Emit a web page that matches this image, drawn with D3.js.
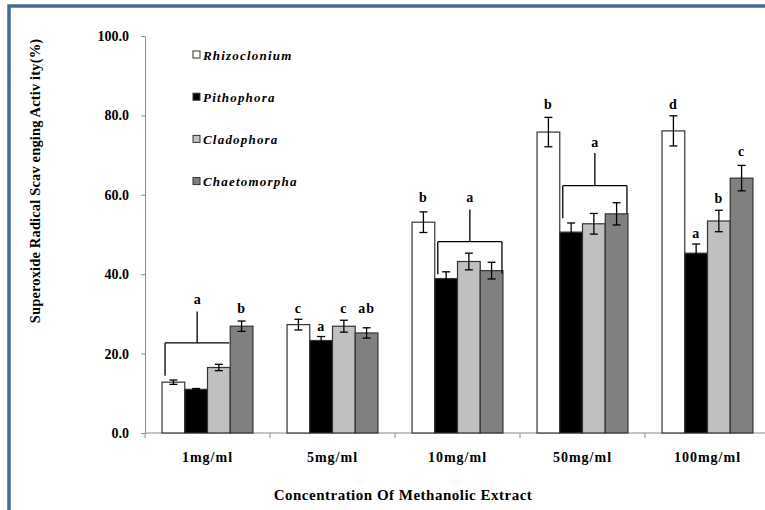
<!DOCTYPE html>
<html>
<head>
<meta charset="utf-8">
<script src="https://cdn.jsdelivr.net/npm/d3@7/dist/d3.min.js"></script>
<style>
  html, body { margin: 0; padding: 0; background: #ffffff; }
  svg { display: block; }
  text { font-family: "Liberation Serif", "Times New Roman", serif; font-weight: bold; fill: #000; }
</style>
</head>
<body>
<svg id="chart" width="765" height="510"></svg>
<script>
// ---------------- data ----------------
const categories = ["1mg/ml", "5mg/ml", "10mg/ml", "50mg/ml", "100mg/ml"];
const seriesNames = ["Rhizoclonium", "Pithophora", "Cladophora", "Chaetomorpha"];
const rhizoclonium = [12.8, 27.3, 53.1, 75.8, 76.1];
const rhizoclonium_err = [0.55, 1.35, 2.6, 3.7, 3.8];
const pithophora = [11.0, 23.3, 38.9, 50.6, 45.3];
const pithophora_err = [0.2, 1.0, 1.7, 2.3, 2.3];
const cladophora = [16.5, 26.9, 43.2, 52.7, 53.4];
const cladophora_err = [0.8, 1.5, 2.1, 2.6, 2.7];
const chaetomorpha = [26.9, 25.2, 40.9, 55.2, 64.2];
const chaetomorpha_err = [1.3, 1.3, 2.1, 2.8, 3.2];
const yTicks = [0, 20, 40, 60, 80, 100];
const yTitle = "Superoxide Radical Scav enging Activ ity(%)";
const xTitle = "Concentration Of Methanolic Extract";
// significance letters over single bars: category index, series index, letter, baseline (data units)
const barLetters = [
  [0, 3, "b", 30.3],
  [1, 0, "c", 30.3], [1, 1, "a", 25.7], [1, 2, "c", 30.3], [1, 3, "ab", 30.3],
  [2, 0, "b", 58.2],
  [3, 0, "b", 81.5],
  [4, 0, "d", 81.5], [4, 1, "a", 49.0], [4, 2, "b", 57.9], [4, 3, "c", 69.8]
];
// brackets: category, first series, last series, letter, letter baseline, stem top, bar level, left drop, right drop
const brackets = [
  [0, 0, 2, "a", 32.5, 30.6, 22.7, 14.4, null],
  [2, 1, 3, "a", 58.3, 56.3, 48.2, 40.0, 40.2],
  [3, 1, 3, "a", 72.1, 70.5, 62.3, 54.1, 55.2]
];

const values = [rhizoclonium, pithophora, cladophora, chaetomorpha];
const errors = [rhizoclonium_err, pithophora_err, cladophora_err, chaetomorpha_err];
const colors = ["#ffffff", "#000000", "#c0c0c0", "#808080"];

const table = [];
categories.forEach((c, ci) => {
  seriesNames.forEach((s, si) => {
    table.push({ cat: c, ci, series: s, si, value: values[si][ci], err: errors[si][ci] });
  });
});

// ---------------- layout ----------------
const svg = d3.select("#chart");
const plotLeft = 145, plotRight = 770, plotTop = 36, plotBottom = 433;

const x = d3.scaleBand().domain(categories).range([plotLeft, plotRight]).paddingInner(0).paddingOuter(0);
const xs = d3.scaleBand().domain(seriesNames).range([0, x.bandwidth()]).paddingInner(0).paddingOuter(0.75);
const y = d3.scaleLinear().domain([0, 100]).range([plotBottom, plotTop]);

// frame
svg.append("rect")
  .attr("x", 9).attr("y", 6).attr("width", 800).attr("height", 600)
  .attr("fill", "none").attr("stroke", "#46699c").attr("stroke-width", 3.5);

// y axis
const yAxis = svg.append("g").attr("transform", `translate(${plotLeft},0)`)
  .call(d3.axisLeft(y).tickValues(yTicks).tickSize(4).tickSizeOuter(0).tickPadding(12).tickFormat(d3.format(".1f")));
yAxis.select(".domain").attr("stroke", "#8c8c8c");
yAxis.selectAll(".tick line").attr("stroke", "#8c8c8c");
yAxis.selectAll(".tick text").style("font-size", "14px").style("font-family", "'Liberation Serif', serif").style("font-weight", "bold");

// x axis (line, boundary ticks, labels)
const xAxisG = svg.append("g");
xAxisG.append("line").attr("x1", plotLeft).attr("x2", plotRight).attr("y1", plotBottom).attr("y2", plotBottom)
  .attr("stroke", "#8c8c8c");
const boundaries = categories.map(c => x(c)).concat([x(categories[categories.length - 1]) + x.bandwidth()]);
xAxisG.selectAll("line.bt").data(boundaries).enter().append("line")
  .attr("class", "bt")
  .attr("x1", d => d).attr("x2", d => d).attr("y1", plotBottom).attr("y2", plotBottom + 5)
  .attr("stroke", "#8c8c8c");
xAxisG.selectAll("text.xl").data(categories).enter().append("text")
  .attr("class", "xl")
  .attr("x", d => x(d) + x.bandwidth() / 2)
  .attr("y", plotBottom + 29)
  .attr("text-anchor", "middle")
  .style("font-size", "14px")
  .style("letter-spacing", "1px")
  .text(d => d);

// bars
svg.append("g").selectAll("rect").data(table).enter().append("rect")
  .attr("x", d => x(d.cat) + xs(d.series))
  .attr("y", d => y(d.value))
  .attr("width", xs.bandwidth())
  .attr("height", d => y(0) - y(d.value))
  .attr("fill", d => colors[d.si])
  .attr("stroke", "#333333")
  .attr("stroke-width", 1.2);

// error bars
const eg = svg.append("g").attr("stroke", "#000").attr("stroke-width", 1.3);
table.forEach(d => {
  const cx = x(d.cat) + xs(d.series) + xs.bandwidth() / 2;
  const y1 = y(d.value + d.err), y2 = y(d.value - d.err);
  eg.append("line").attr("x1", cx).attr("x2", cx).attr("y1", y1).attr("y2", y2);
  eg.append("line").attr("x1", cx - 4).attr("x2", cx + 4).attr("y1", y1).attr("y2", y1);
  eg.append("line").attr("x1", cx - 4).attr("x2", cx + 4).attr("y1", y2).attr("y2", y2);
});

// letters on single bars
svg.append("g").selectAll("text").data(barLetters).enter().append("text")
  .attr("x", d => x(categories[d[0]]) + xs(seriesNames[d[1]]) + xs.bandwidth() / 2)
  .attr("y", d => y(d[3]))
  .attr("text-anchor", "middle")
  .style("font-size", "14px")
  .style("letter-spacing", "1px")
  .text(d => d[2]);

// brackets
const bg = svg.append("g").attr("stroke", "#000").attr("stroke-width", 1.3).attr("fill", "none");
brackets.forEach(b => {
  const cat = categories[b[0]];
  const x0 = x(cat) + xs(seriesNames[b[1]]) + 3;
  const x1 = x(cat) + xs(seriesNames[b[2]]) + xs.bandwidth() - 1;
  const xm = (x0 + x1) / 2;
  bg.append("line").attr("x1", x0).attr("x2", x1).attr("y1", y(b[6])).attr("y2", y(b[6]));
  bg.append("line").attr("x1", xm).attr("x2", xm).attr("y1", y(b[5])).attr("y2", y(b[6]));
  bg.append("line").attr("x1", x0).attr("x2", x0).attr("y1", y(b[6])).attr("y2", y(b[7]));
  if (b[8] !== null) bg.append("line").attr("x1", x1).attr("x2", x1).attr("y1", y(b[6])).attr("y2", y(b[8]));
  svg.append("text").attr("x", xm).attr("y", y(b[4])).attr("text-anchor", "middle")
    .style("font-size", "14px").text(b[3]);
});

// legend
const lg = svg.append("g");
seriesNames.forEach((s, i) => {
  const cy = 55 + i * 42.2;
  lg.append("rect").attr("x", 193).attr("y", cy - 4).attr("width", 7).attr("height", 7)
    .attr("fill", colors[i]).attr("stroke", "#333").attr("stroke-width", 1);
  lg.append("text").attr("x", 203).attr("y", cy + 4.5)
    .style("font-size", "13px").style("font-style", "italic").style("letter-spacing", "1.2px")
    .text(s);
});

// axis titles
svg.append("text").attr("transform", "translate(40,181) rotate(-90)")
  .attr("text-anchor", "middle").style("font-size", "14.5px").style("letter-spacing", "0.15px").text(yTitle);
svg.append("text").attr("x", 403).attr("y", 500)
  .attr("text-anchor", "middle").style("font-size", "15px").style("letter-spacing", "0.5px").text(xTitle);
</script>
</body>
</html>
